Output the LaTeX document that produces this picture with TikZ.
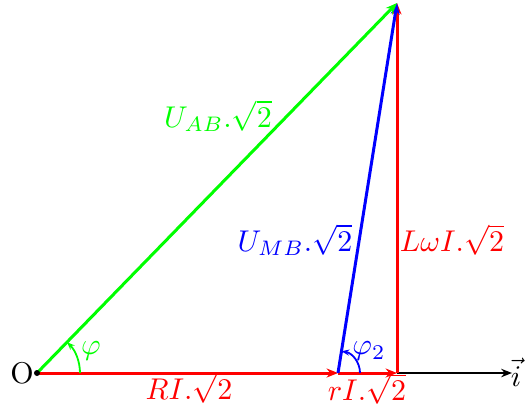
\documentclass[tikz,border=0pt]{standalone}
\usetikzlibrary{arrows.meta,calc}
\begin{document}
\begin{tikzpicture}[x=0.3333pt,y=0.3333pt,
  vec/.style={line width=1pt,-{Stealth[length=3.8pt,width=3pt]}},
  axisvec/.style={line width=0.7pt,-{Stealth[length=3.6pt,width=2.8pt]}},
  angarc/.style={semithick,-{Stealth[length=2.6pt,width=2pt]}},
  lbl/.style={inner sep=0pt}]
\useasboundingbox (0,0) rectangle (531,417);
\coordinate (O) at (37,44);
\coordinate (M) at (338,44);
\coordinate (H) at (397,44);
\coordinate (T) at (397,414);
\coordinate (I) at (512,44);
% axis
\draw[axisvec,black] (H) -- (I);
% vectors
\draw[vec,red] (O) -- (M);
\draw[vec,red] (M) -- (H);
\draw[vec,red] (H) -- (T);
\draw[vec,blue] (M) -- (T);
\draw[vec,green] (O) -- (T);
% angles
\draw[angarc,green] ($(O)+(43,0)$) arc[start angle=0,end angle=45.8,radius=14.33pt];
\draw[angarc,blue] ($(M)+(22,0)$) arc[start angle=0,end angle=80.9,radius=7.33pt];
% point O
\fill (O) circle[radius=1pt];
% labels
\node[lbl] (lO) at (22,44) {O};
\node[lbl,red] (lRI) at (189,29) {$RI.\sqrt{2}$};
\node[lbl,red] (lrI) at (367,28) {$rI.\sqrt{2}$};
\node[lbl] (li) at (516,45) {$\vec{i}$};
\node[lbl,red] (lL) at (452,177) {$L\omega I.\sqrt{2}$};
\node[lbl,blue] (lMB) at (295,177) {$U_{MB}.\sqrt{2}$};
\node[lbl,green] (lAB) at (218,301) {$U_{AB}.\sqrt{2}$};
\node[lbl,green] (lphi) at (91,66) {$\varphi$};
\node[lbl,blue] (lphi2) at (369,66) {$\varphi_2$};
\end{tikzpicture}
\end{document}
